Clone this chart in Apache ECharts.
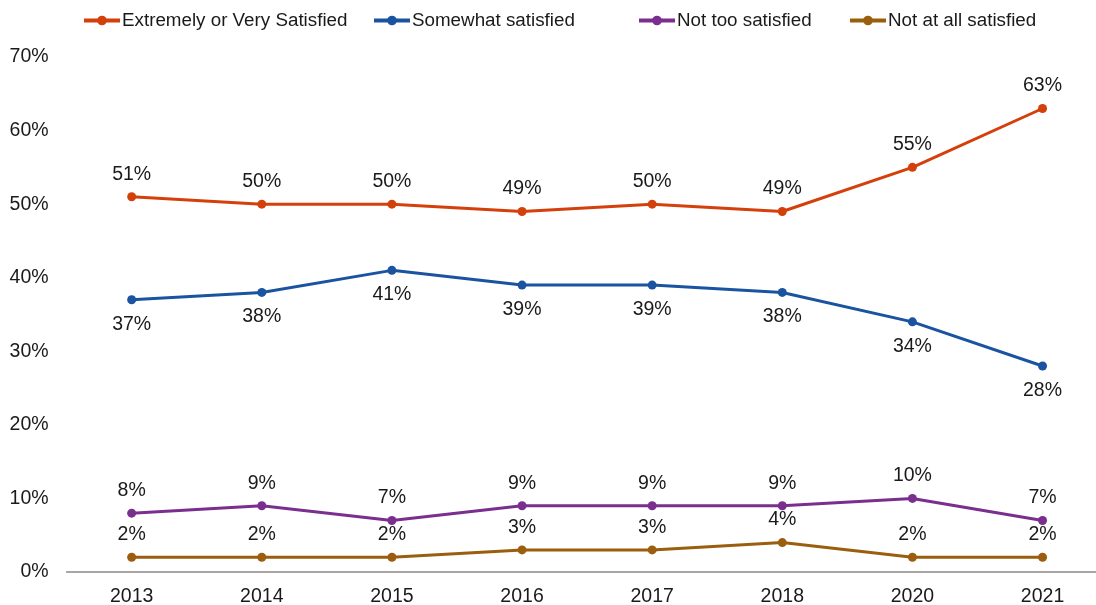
<!DOCTYPE html>
<html>
<head>
<meta charset="utf-8">
<script src="https://cdn.jsdelivr.net/npm/echarts@6/dist/echarts.min.js"></script>
<style>
html,body{margin:0;padding:0;background:#fff;}
#chart{width:1096px;height:605px;}
</style>
</head>
<body>
<div id="chart"></div>
<script>
const years = ['2013','2014','2015','2016','2017','2018','2020','2021'];
const extremelyOrVery = [51,50,50,49,50,49,55,63];
const somewhat = [37,38,41,39,39,38,34,28];
const notToo = [8,9,7,9,9,9,10,7];
const notAtAll = [2,2,2,3,3,4,2,2];

const seriesNames = ['Extremely or Very Satisfied','Somewhat satisfied','Not too satisfied','Not at all satisfied'];
const seriesColors = ['#D4400B','#1A54A0','#7A2F8E','#9A5E0E'];

const font = 'Liberation Sans, Arial, sans-serif';
const textColor = '#1a1a1a';

function line(name, data, color, pos, dist) {
  return {
    name, type: 'line', data,
    symbol: 'circle', symbolSize: 9,
    lineStyle: { width: 3, color },
    itemStyle: { color },
    label: {
      show: true, position: pos, distance: dist,
      formatter: p => p.value + '%',
      fontFamily: font, fontSize: 19.5, color: textColor
    },
    emphasis: { disabled: true },
    animation: false
  };
}

// one legend block per entry so each sits in its own slot across the top
const legendLefts = [77, 367, 632, 843];
const legends = seriesNames.map((name, i) => ({
  data: [name],
  top: 6, left: legendLefts[i],
  itemWidth: 36, itemHeight: 12,
  lineStyle: { width: 4 },
  textStyle: { fontFamily: font, fontSize: 18.8, color: textColor, padding: [0,0,0,-3] }
}));

const chart = echarts.init(document.getElementById('chart'));
chart.setOption({
  backgroundColor: '#fff',
  textStyle: { fontFamily: font },
  legend: legends,
  grid: { left: 66.6, width: 1041, top: 57, bottom: 33, outerBoundsMode: 'none', containLabel: false },
  xAxis: {
    type: 'category', data: years, boundaryGap: true,
    axisLine: { lineStyle: { color: '#898989', width: 1.5 } },
    axisTick: { show: false },
    axisLabel: { fontFamily: font, fontSize: 19.5, color: textColor, margin: 15 }
  },
  yAxis: {
    type: 'value', min: 0, max: 70, interval: 10,
    splitLine: { show: false },
    axisLine: { show: false }, axisTick: { show: false },
    axisLabel: { fontFamily: font, fontSize: 19.5, color: textColor, margin: 18, formatter: '{value}%' }
  },
  series: [
    line(seriesNames[0], extremelyOrVery, seriesColors[0], 'top', 8),
    line(seriesNames[1], somewhat, seriesColors[1], 'bottom', 10),
    line(seriesNames[2], notToo, seriesColors[2], 'top', 8),
    line(seriesNames[3], notAtAll, seriesColors[3], 'top', 8)
  ]
});
</script>
</body>
</html>
